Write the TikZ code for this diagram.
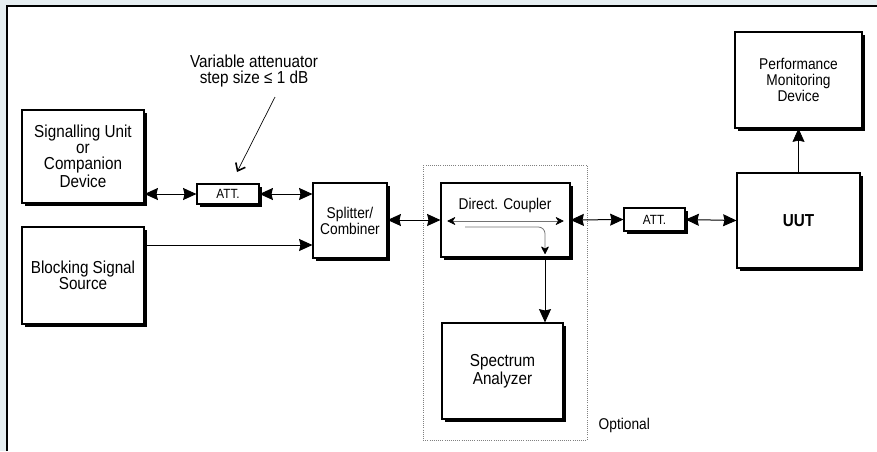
\documentclass[tikz,border=0pt]{standalone}
\usepackage{fontspec}
\setmainfont{Liberation Sans}[FakeStretch=0.88]
\usepackage{xcolor}
\usepackage{tikz}
\usetikzlibrary{positioning, arrows.meta, shadows}

\definecolor{paneblue}{RGB}{230,238,241}
\newcommand{\bigtxt}{\fontsize{13}{15.5}\selectfont}
\newcommand{\smtxt}{\fontsize{11.7}{14}\selectfont}
\newcommand{\atttxt}{\fontsize{10}{12}\selectfont}

\tikzset{
  box/.style={draw, line width=0.8pt, fill=white, align=center, inner sep=0pt,
    drop shadow={shadow xshift=2.2pt, shadow yshift=-2.2pt, fill=black, opacity=1}},
  tip/.tip={Stealth[length=10pt,width=9pt,inset=1pt]},
  arr/.style={-tip, line width=0.75pt},
  dbl/.style={tip-tip, line width=0.75pt},
  inner/.style={{Stealth[round,length=6.5pt,width=6.5pt,color=black]}-{Stealth[round,length=6.5pt,width=6.5pt,color=black]},
    line width=0.5pt, black!55},
}

\begin{document}
\begin{tikzpicture}[x=0.75pt,y=-0.75pt]
      % page frame
      \useasboundingbox (0,0) rectangle (877,451);
      \fill[paneblue] (0,0) rectangle (877,451);
      \fill[white] (7,6) rectangle (877,451);
      \draw[line width=1pt] (7,451) -- (7,6) -- (877,6);

      % optional part
      \draw[black!50, densely dotted, line width=0.6pt] (423,165) rectangle (587,440);
      \node[anchor=west] (opt) at (594,425) {\smtxt Optional};

      % blocks
      \node[box, minimum width=91.5pt, minimum height=69.75pt] (sig) at (83,156.5)
        {\bigtxt Signalling Unit\\ \bigtxt or\\ \bigtxt Companion\\ \bigtxt Device};
      \node[box, minimum width=91.5pt, minimum height=72.75pt] (blk) at (83,275.5)
        {\bigtxt Blocking Signal\\ \bigtxt Source};
      \node[box, minimum width=46.5pt, minimum height=15pt] (att1) at (228,194) {\atttxt ATT.};
      \node[box, minimum width=55.5pt, minimum height=56.25pt] (spl) at (350,220.5)
        {\smtxt Splitter/\\ \smtxt Combiner};
      \node[box, minimum width=96.75pt, minimum height=55.5pt] (cpl) at (505.5,220) {};
      \node[] (cpltxt) at (505,205) {\smtxt Direct. Coupler};
      \node[box, minimum width=90.75pt, minimum height=72pt] (spa) at (502.5,371)
        {\bigtxt Spectrum\\ \bigtxt Analyzer};
      \node[box, minimum width=45.75pt, minimum height=17.25pt] (att2) at (654.5,219.5) {\atttxt ATT.};
      \node[box, minimum width=92.25pt, minimum height=71.25pt] (uut) at (798.5,220.5)
        {\bigtxt\bfseries UUT};
      \node[box, minimum width=95.25pt, minimum height=72pt] (pmd) at (798.5,80)
        {\smtxt Performance\\ \smtxt Monitoring\\ \smtxt Device};

      % note on the attenuator
      \node[align=center] (note) at (254,71) {\bigtxt Variable attenuator\\ \bigtxt step size ≤ 1 dB};
      \coordinate (notefoot) at (275,97);
      \coordinate (notetip) at (237,172);
      \draw[-{Straight Barb[length=5pt,width=8pt,line width=1.2pt]}, line width=0.5pt] (notefoot) -- (notetip);

      % signal path
      \draw[dbl] (att1.west -| sig.east) -- (att1.west);
      \draw[dbl] (att1.east) -- (att1.east -| spl.west);
      \coordinate (blkrow) at (0,245);
      \draw[arr] (blk.east |- blkrow) -- (spl.west |- blkrow);
      \draw[dbl] (spl.east |- cpl.west) -- (cpl.west);
      \draw[dbl] (cpl.east) -- (att2.west);
      \draw[dbl] (att2.east) -- (uut.west);
      \draw[arr, line width=0.5pt] (uut.north) -- (pmd.south);

      % inside the coupler
      \draw[inner] ([xshift=5.25pt,yshift=-0.75pt]cpl.west) -- ([xshift=-5.25pt,yshift=-0.75pt]cpl.east);
      \coordinate (tap) at (545,227);
      \coordinate (tapend) at (545,254);
      \draw[black!55, line width=0.6pt, rounded corners=5pt, -{Stealth[round,length=6.5pt,width=6.5pt,color=black]}]
        (465,227) -- (tap) -- (tapend);
      \draw[arr] (cpl.south -| tap) -- (spa.north -| tap);
    \end{tikzpicture}
\end{document}
